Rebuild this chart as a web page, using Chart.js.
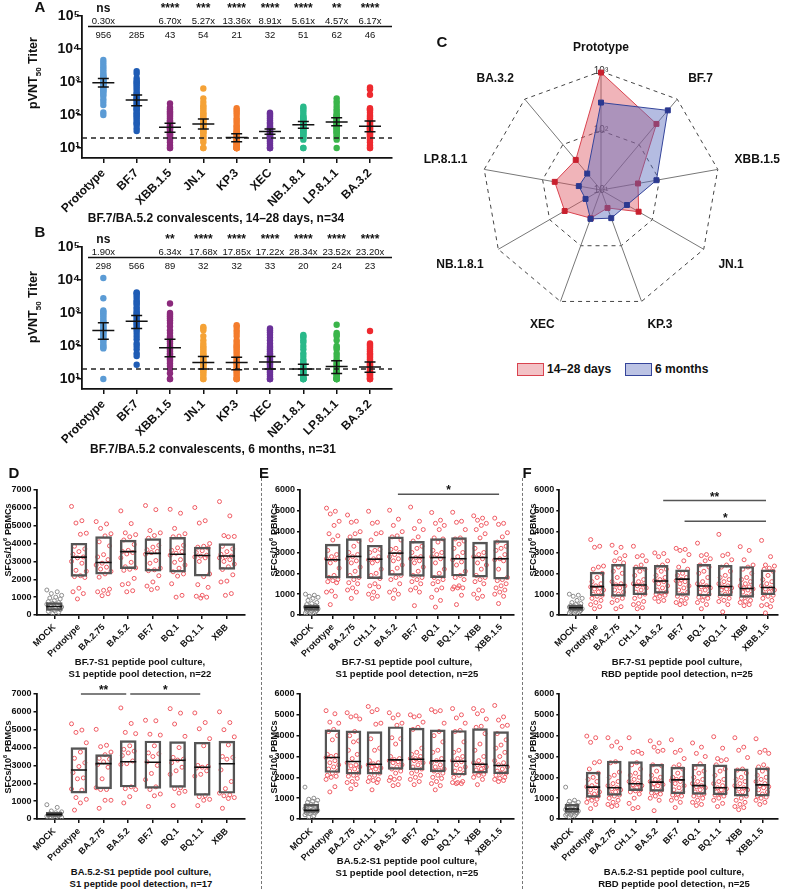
<!DOCTYPE html>
<html>
<head>
<meta charset="utf-8">
<script src="https://cdn.jsdelivr.net/npm/chart.js@4.4.1/dist/chart.umd.min.js"></script>
<style>
  body { margin: 0; background: #fff; }
  #page { position: relative; width: 785px; height: 889px; overflow: hidden; background: #fff;
          font-family: "Liberation Sans", Arial, sans-serif; color: #111; }
  .t { position: absolute; white-space: nowrap; font-weight: bold; transform: translate(-50%, -50%); line-height: 1; }
  .v { position: absolute; white-space: nowrap; font-weight: bold; transform: translate(-50%, -50%) rotate(-90deg); line-height: 1; }
  .sep { position: absolute; width: 0; border-left: 1px dashed #777; }
  .lg { position: absolute; width: 25px; height: 11px; }
</style>
</head>
<body>
<div id="page"></div>
<script>
// ---------- panel A / B : neutralising titers ----------
const variants = ['Prototype', 'BF.7', 'XBB.1.5', 'JN.1', 'KP.3', 'XEC', 'NB.1.8.1', 'LP.8.1.1', 'BA.3.2'];
const variantColors = ['#5b9bd5', '#1f5cb5', '#8b2a7c', '#f5a236', '#f47c2c', '#6a3199', '#2ab98a', '#3ab54a', '#ee2a2f'];
const titerTicks = [10, 100, 1000, 10000, 100000];
const lod = 20;

const gmtA = [956, 285, 43, 54, 21, 32, 51, 62, 46];
const loA = [710, 191, 30, 38, 15.5, 26, 40, 47, 31];
const hiA = [1290, 404, 56, 76, 27, 38, 64, 83, 66];
const sigA = ['ns', '', '****', '***', '****', '****', '****', '**', '****'];
const foldA = ['0.30x', '', '6.70x', '5.27x', '13.36x', '8.91x', '5.61x', '4.57x', '6.17x'];
const ptsA = [
  [4650, 3900, 3300, 2800, 2400, 2100, 1800, 1600, 1500, 1400, 1300, 1200, 1150, 1100, 1050, 1000, 950, 900, 850, 800, 750, 700, 650, 600, 560, 520, 480, 420, 380, 300, 250, 200, 120, 100],
  [2140, 1800, 1300, 1100, 1000, 900, 800, 700, 600, 500, 450, 400, 350, 320, 300, 280, 250, 220, 200, 180, 160, 150, 140, 120, 110, 100, 90, 80, 70, 60, 55, 50, 40, 33],
  [225, 170, 150, 130, 120, 110, 100, 90, 80, 70, 65, 60, 55, 50, 48, 45, 42, 40, 38, 35, 32, 30, 28, 26, 25, 23, 21, 20, 20, 18, 15, 12, 10, 10],
  [640, 320, 250, 200, 180, 160, 140, 120, 110, 100, 90, 80, 75, 70, 65, 60, 55, 50, 48, 45, 42, 40, 38, 35, 32, 30, 28, 25, 22, 20, 18, 15, 10, 10],
  [160, 140, 120, 100, 80, 70, 60, 50, 45, 40, 35, 32, 30, 28, 26, 24, 22, 20, 20, 18, 17, 16, 15, 14, 13, 12, 12, 11, 10, 10, 10, 10, 10, 10],
  [118, 110, 100, 90, 80, 70, 60, 55, 50, 45, 42, 40, 38, 36, 34, 32, 30, 28, 27, 26, 25, 24, 23, 22, 21, 20, 20, 18, 16, 14, 12, 10, 10, 10],
  [178, 160, 140, 120, 100, 90, 85, 80, 75, 70, 65, 60, 58, 55, 52, 50, 48, 46, 44, 42, 40, 38, 36, 34, 32, 30, 28, 26, 24, 22, 20, 18, 10, 10],
  [320, 260, 220, 180, 150, 130, 110, 100, 95, 90, 85, 80, 75, 70, 65, 60, 58, 55, 52, 50, 48, 45, 42, 40, 38, 35, 32, 30, 28, 25, 22, 20, 18, 10],
  [680, 600, 410, 160, 150, 140, 120, 100, 90, 80, 70, 65, 60, 55, 50, 48, 45, 42, 40, 38, 36, 34, 32, 30, 28, 26, 24, 22, 20, 18, 15, 12, 10, 10]
];

const gmtB = [298, 566, 89, 32, 32, 33, 20, 24, 23];
const loB = [160, 340, 47, 20, 19, 20, 13.2, 14.8, 16];
const hiB = [510, 840, 160, 48, 46, 48, 28, 36, 33];
const sigB = ['ns', '', '**', '****', '****', '****', '****', '****', '****'];
const foldB = ['1.90x', '', '6.34x', '17.68x', '17.85x', '17.22x', '28.34x', '23.52x', '23.20x'];
const ptsB = [
  [11500, 2800, 1200, 1100, 1000, 900, 800, 700, 600, 550, 500, 450, 400, 380, 350, 320, 300, 280, 260, 240, 220, 200, 180, 160, 150, 130, 110, 100, 90, 85, 10],
  [4200, 4000, 3500, 3000, 2500, 2200, 2000, 1800, 1500, 1300, 1100, 1000, 900, 800, 700, 600, 550, 500, 450, 400, 350, 300, 250, 200, 160, 120, 100, 80, 60, 50, 27],
  [1950, 1000, 900, 800, 700, 600, 500, 400, 300, 250, 200, 180, 160, 140, 120, 100, 90, 80, 70, 60, 55, 50, 45, 40, 35, 30, 25, 20, 15, 10, 10],
  [380, 350, 300, 200, 150, 120, 100, 90, 80, 70, 60, 55, 50, 45, 40, 36, 33, 30, 28, 26, 24, 22, 20, 20, 20, 18, 16, 14, 12, 10, 10],
  [430, 380, 300, 250, 200, 150, 130, 110, 100, 90, 80, 70, 60, 50, 45, 40, 35, 32, 30, 28, 25, 22, 20, 20, 18, 16, 14, 12, 10, 10, 10],
  [340, 300, 260, 220, 180, 150, 120, 100, 90, 80, 70, 60, 55, 50, 45, 40, 36, 33, 30, 28, 25, 22, 20, 20, 18, 16, 14, 12, 10, 10, 10],
  [215, 200, 180, 150, 130, 100, 80, 60, 50, 40, 35, 30, 28, 25, 22, 20, 20, 20, 18, 17, 16, 15, 14, 13, 12, 11, 10, 10, 10, 10, 10],
  [440, 250, 220, 200, 150, 100, 90, 80, 60, 50, 40, 35, 30, 28, 25, 22, 20, 20, 18, 17, 16, 15, 14, 13, 12, 11, 10, 10, 10, 10, 10],
  [285, 120, 110, 100, 90, 80, 70, 60, 55, 50, 45, 40, 35, 30, 28, 26, 24, 22, 20, 20, 18, 17, 16, 15, 14, 13, 12, 11, 10, 10, 10]
];

// ---------- panel C : radar of GMTs ----------
const radarMin = 10, radarMax = 1000;

// ---------- panels D / E / F : ELISpot ----------
const catsD = ['MOCK', 'Prototype', 'BA.2.75', 'BA.5.2', 'BF.7', 'BQ.1', 'BQ.1.1', 'XBB'];
const catsEF = ['MOCK', 'Prototype', 'BA.2.75', 'CH.1.1', 'BA.5.2', 'BF.7', 'BQ.1', 'BQ.1.1', 'XBB', 'XBB.1.5'];

const dTopPts = [
  [1400, 1300, 1200, 1100, 1000, 950, 900, 800, 750, 700, 650, 600, 550, 500, 450, 400, 350, 300, 250, 200, 150, 100],
  [6080, 5280, 5150, 4580, 4520, 3850, 3700, 3550, 3400, 3250, 3200, 3000, 2900, 2500, 2450, 2200, 2150, 2100, 1500, 1300, 1200, 900],
  [5230, 5100, 4850, 4550, 4430, 4100, 3870, 3380, 3250, 3100, 2900, 2800, 2680, 2570, 2440, 2300, 2120, 1450, 1380, 1300, 1190, 1080],
  [5830, 5120, 4600, 4500, 4380, 4200, 3950, 3620, 3560, 3500, 3420, 3200, 2950, 2700, 2640, 2560, 2500, 2050, 1750, 1700, 1360, 1300],
  [6130, 5900, 4730, 4600, 4450, 4300, 3900, 3800, 3650, 3560, 3500, 3400, 3050, 2900, 2620, 2530, 2480, 2200, 1850, 1620, 1500, 1420],
  [5920, 5700, 4850, 4550, 4420, 4380, 3900, 3760, 3620, 3550, 3460, 3350, 3100, 2950, 2800, 2620, 2420, 2300, 2180, 1750, 1100, 1000],
  [6020, 5280, 5150, 4000, 3850, 3800, 3750, 3600, 3500, 3350, 3300, 3250, 3200, 3000, 2300, 2150, 1700, 1550, 1100, 1050, 1000, 950],
  [6350, 5550, 4450, 4400, 4380, 3850, 3700, 3550, 3400, 3300, 3250, 3200, 3100, 3000, 2850, 2700, 2550, 2250, 1900, 1850, 1200, 1100]
];
const dTopQ1 = [260, 2160, 2290, 2590, 2450, 2400, 2180, 2550];
const dTopMed = [480, 3240, 2940, 3550, 3450, 3400, 3330, 3300];
const dTopQ3 = [700, 4020, 4390, 4200, 4280, 4350, 3800, 4000];

const dBotPts = [
  [800, 650, 450, 400, 350, 300, 300, 250, 250, 200, 200, 150, 150, 100, 100, 50, 50],
  [5330, 4980, 4850, 4270, 3750, 3400, 3150, 2940, 2600, 2300, 2250, 1680, 1620, 1200, 1100, 900, 500],
  [5020, 4130, 4050, 3750, 3600, 3400, 3350, 3200, 3050, 2900, 2250, 1750, 1650, 1650, 1050, 1050, 600],
  [6220, 5350, 4850, 4780, 4100, 3900, 3800, 3700, 3550, 3250, 3100, 3050, 1800, 1700, 1650, 1250, 900],
  [5530, 5500, 4750, 4700, 4100, 3700, 3650, 3500, 3200, 3000, 2550, 2200, 1800, 1650, 1400, 1300, 700],
  [6180, 5930, 5320, 4630, 4000, 3450, 3350, 3300, 3150, 2900, 2700, 2500, 1750, 1700, 1550, 1450, 750],
  [5940, 5400, 5050, 4500, 4100, 3000, 2950, 2900, 2850, 2700, 2500, 2400, 1300, 1250, 1100, 1050, 750],
  [6000, 5400, 5000, 4600, 4150, 3500, 3450, 3350, 2750, 2100, 1700, 1450, 1350, 1300, 1200, 1150, 600]
];
const dBotQ1 = [150, 1450, 1680, 1790, 1710, 1770, 1320, 1440];
const dBotMed = [260, 2740, 3100, 3210, 3180, 3290, 2900, 3090];
const dBotQ3 = [370, 4000, 3610, 4390, 4370, 4330, 4300, 4360];
const sigDBot = [
  { from: 'Prototype', to: 'BA.5.2', y: 7000, label: '**' },
  { from: 'BA.5.2', to: 'BQ.1.1', y: 7000, label: '*' }
];

const eTopPts = [
  [1000, 950, 900, 850, 800, 700, 600, 550, 500, 450, 400, 380, 350, 330, 300, 280, 250, 220, 200, 180, 150, 120, 100, 80, 50],
  [5130, 4980, 4850, 4500, 4300, 3900, 3800, 3600, 3100, 2900, 2800, 2700, 2650, 2500, 2250, 1900, 1800, 1700, 1650, 1600, 1550, 1150, 1100, 900, 500],
  [4800, 4500, 4450, 4000, 3900, 3750, 3550, 3300, 3000, 2900, 2800, 2700, 2600, 2500, 2300, 2100, 1900, 1800, 1700, 1550, 1500, 1300, 1200, 1100, 800],
  [4980, 4450, 4400, 3950, 3900, 3600, 3150, 3100, 3000, 2800, 2700, 2650, 2600, 2500, 2200, 2000, 1900, 1750, 1500, 1400, 1350, 1100, 1000, 900, 800],
  [5030, 4600, 4300, 4000, 3800, 3750, 3600, 3200, 3150, 3000, 2900, 2800, 2700, 2600, 2400, 2250, 2050, 1900, 1800, 1700, 1500, 1200, 1100, 1000, 800],
  [5180, 4500, 4150, 4100, 3750, 3550, 3300, 3200, 3000, 2800, 2750, 2700, 2600, 2500, 2300, 2100, 1900, 1800, 1700, 1600, 1500, 1300, 1200, 1100, 450],
  [4920, 4550, 4400, 4300, 4100, 3700, 3650, 3500, 3100, 3000, 2900, 2800, 2700, 2500, 2200, 2000, 1800, 1700, 1600, 1500, 1300, 1200, 850, 700, 380],
  [4930, 4500, 4450, 4100, 3700, 3650, 3550, 3400, 3200, 3000, 2800, 2650, 2550, 2400, 2100, 1900, 1800, 1700, 1400, 1350, 1300, 1300, 1250, 950, 500],
  [4760, 4650, 4550, 4400, 4300, 4100, 3900, 3700, 3200, 3000, 2900, 2800, 2700, 2500, 2400, 2200, 1900, 1800, 1700, 1600, 1500, 1200, 1000, 900, 800],
  [4650, 4400, 4350, 3950, 3750, 3500, 3300, 3200, 3100, 2900, 2700, 2650, 2600, 2200, 1800, 1700, 1650, 1500, 1400, 1300, 1200, 1100, 1000, 900, 550]
];
const eTopQ1 = [220, 1770, 1770, 1740, 1900, 1850, 1790, 1870, 1820, 1720];
const eTopMed = [365, 2650, 2810, 2680, 2970, 2760, 2760, 2700, 2760, 2700];
const eTopQ3 = [480, 3400, 3670, 3350, 3750, 3540, 3670, 3720, 3500, 3570];
const sigETop = [{ from: 'BA.5.2', to: 'XBB.1.5', y: 5800, label: '*' }];

const eBotPts = [
  [1530, 1000, 950, 900, 850, 800, 750, 700, 650, 600, 550, 500, 480, 450, 420, 400, 380, 350, 320, 300, 280, 250, 200, 150, 100],
  [5200, 5050, 4650, 4600, 4300, 4200, 4000, 3800, 3100, 3050, 3000, 2950, 2800, 2700, 2600, 2500, 2400, 2300, 2200, 2100, 2050, 2000, 1900, 1550, 1300],
  [5100, 4950, 4900, 4800, 4200, 4000, 3750, 3700, 3300, 3100, 2900, 2700, 2600, 2550, 2500, 2400, 2300, 2200, 2100, 2050, 1950, 1800, 1750, 1650, 1450],
  [5400, 5250, 5150, 4600, 4550, 3850, 3400, 3300, 2800, 2700, 2650, 2600, 2550, 2500, 2450, 2400, 2300, 2200, 2100, 2000, 1900, 1850, 1800, 1750, 1400],
  [5100, 5000, 4850, 4600, 4500, 3900, 3850, 3600, 3000, 2900, 2850, 2800, 2750, 2700, 2600, 2500, 2400, 2300, 2200, 2000, 1950, 1900, 1850, 1650, 1600],
  [5000, 4950, 4900, 4650, 4400, 4300, 3400, 3200, 3100, 3000, 2900, 2900, 2850, 2800, 2700, 2600, 2500, 2400, 2300, 2200, 2100, 2000, 1900, 1800, 1650],
  [5250, 5200, 5150, 4600, 4200, 4000, 3700, 3300, 3200, 2900, 2800, 2700, 2600, 2500, 2400, 2350, 2300, 2200, 2100, 2000, 1950, 1800, 1700, 1600, 1400],
  [5300, 5000, 4850, 4600, 4250, 4200, 3700, 3300, 3200, 3000, 2900, 2800, 2750, 2600, 2500, 2400, 2300, 2200, 2100, 2000, 1800, 1750, 1750, 1700, 1700],
  [5300, 5200, 5050, 4800, 4450, 4400, 4100, 3600, 3300, 3000, 2800, 2700, 2600, 2600, 2500, 2400, 2350, 2300, 2250, 2200, 2150, 2100, 2000, 1900, 1650],
  [5450, 4900, 4750, 4500, 4450, 4100, 3800, 3550, 3400, 3200, 3000, 2800, 2700, 2600, 2500, 2400, 2300, 2200, 2200, 2100, 2000, 1950, 1900, 1850, 1800]
];
const eBotQ1 = [320, 2230, 2150, 2150, 2380, 2360, 2260, 2110, 2200, 2170];
const eBotMed = [420, 2950, 2760, 2630, 2840, 2870, 2790, 2770, 2630, 2570];
const eBotQ3 = [700, 4280, 4230, 4200, 4430, 4360, 4280, 4250, 4340, 4200];

const fTopPts = [
  [1000, 950, 900, 800, 700, 600, 550, 500, 450, 420, 400, 380, 350, 330, 300, 280, 250, 220, 200, 180, 150, 120, 100, 80, 50],
  [3620, 3300, 3250, 2350, 2300, 2200, 2000, 1800, 1600, 1500, 1400, 1350, 1300, 1250, 1200, 1100, 1000, 950, 900, 800, 700, 600, 500, 400, 300],
  [3350, 3250, 3000, 2850, 2700, 2600, 2500, 2300, 2100, 2000, 1800, 1600, 1500, 1450, 1400, 1300, 1200, 1100, 1000, 900, 800, 700, 600, 400, 300],
  [3300, 2850, 2800, 2600, 2400, 2300, 2200, 2100, 1900, 1700, 1600, 1500, 1450, 1400, 1300, 1200, 1100, 1000, 900, 800, 650, 550, 500, 350, 300],
  [2980, 2950, 2800, 2600, 2400, 2300, 2200, 2100, 1900, 1800, 1700, 1650, 1600, 1500, 1400, 1300, 1200, 1100, 1050, 1000, 950, 900, 800, 700, 650],
  [3200, 3150, 3100, 2900, 2600, 2300, 2200, 2000, 1900, 1800, 1700, 1650, 1600, 1500, 1400, 1300, 1200, 1100, 1000, 900, 800, 700, 600, 550, 500],
  [3450, 2900, 2850, 2700, 2600, 2400, 2300, 2100, 2000, 1800, 1600, 1500, 1400, 1350, 1300, 1200, 1100, 1000, 900, 850, 800, 700, 600, 500, 300],
  [3870, 2920, 2850, 2650, 2400, 2300, 2100, 1900, 1800, 1700, 1600, 1500, 1400, 1350, 1300, 1250, 1200, 1100, 1000, 900, 800, 700, 650, 500, 150],
  [3280, 3100, 2650, 2400, 2300, 2200, 2000, 1800, 1700, 1600, 1500, 1400, 1350, 1300, 1250, 1200, 1100, 1000, 900, 800, 700, 650, 600, 500, 450],
  [3580, 2800, 2400, 2350, 2250, 2200, 2100, 1900, 1700, 1600, 1500, 1400, 1300, 1250, 1200, 1100, 1000, 950, 900, 800, 700, 500, 450, 400, 100]
];
const fTopQ1 = [220, 910, 890, 970, 1040, 940, 910, 920, 840, 970];
const fTopMed = [350, 1360, 1440, 1440, 1630, 1720, 1390, 1370, 1270, 1320];
const fTopQ3 = [480, 2060, 2430, 2300, 2380, 2170, 2430, 2380, 2330, 2170];
const sigFTop = [
  { from: 'BA.5.2', to: 'XBB.1.5', y: 5500, label: '**' },
  { from: 'BF.7', to: 'XBB.1.5', y: 4500, label: '*' }
];

const fBotPts = [
  [1530, 900, 850, 800, 750, 700, 650, 600, 550, 500, 480, 450, 420, 400, 380, 350, 330, 300, 280, 250, 220, 200, 180, 150, 100],
  [3980, 3900, 3680, 2750, 2700, 2400, 2200, 2000, 1900, 1800, 1600, 1550, 1500, 1400, 1300, 1200, 1150, 1100, 1050, 1000, 950, 900, 800, 700, 500],
  [3900, 3700, 3500, 3400, 2750, 2700, 2250, 2100, 2000, 1800, 1700, 1600, 1500, 1450, 1400, 1300, 1200, 1150, 1100, 1000, 900, 800, 700, 650, 600],
  [3900, 3250, 3200, 3150, 2700, 2600, 2400, 2200, 2100, 2000, 1900, 1800, 1700, 1650, 1600, 1500, 1450, 1400, 1350, 1300, 1200, 1000, 750, 550, 500],
  [3750, 3650, 3450, 3300, 3250, 2600, 2550, 2300, 2100, 2000, 1900, 1800, 1750, 1700, 1650, 1600, 1500, 1400, 1300, 1250, 1200, 1100, 1000, 900, 400],
  [3800, 3300, 3200, 2900, 2600, 2500, 2400, 2200, 2000, 1950, 1900, 1850, 1800, 1700, 1600, 1500, 1400, 1300, 1200, 1150, 1100, 1000, 900, 800, 550],
  [3650, 3450, 3150, 3000, 2650, 2450, 2300, 2200, 2000, 1900, 1800, 1700, 1600, 1550, 1500, 1400, 1300, 1200, 1150, 1100, 1000, 900, 800, 700, 650],
  [3950, 3400, 2900, 2850, 2800, 2600, 2400, 2300, 2100, 1900, 1800, 1700, 1600, 1500, 1450, 1400, 1300, 1250, 1200, 1150, 1100, 1000, 900, 750, 600],
  [3900, 3450, 3300, 2950, 2400, 2350, 2200, 2000, 1900, 1800, 1700, 1600, 1500, 1450, 1400, 1300, 1200, 1100, 1000, 900, 800, 700, 600, 550, 450],
  [3850, 3300, 3200, 3150, 2600, 2500, 2400, 2300, 2100, 2000, 1900, 1800, 1700, 1600, 1550, 1500, 1400, 1300, 1200, 1100, 1050, 1000, 900, 800, 700]
];
const fBotQ1 = [320, 1040, 1130, 1360, 1320, 1200, 1180, 1160, 1100, 1100];
const fBotMed = [480, 1530, 1500, 1690, 1770, 1880, 1600, 1500, 1500, 1640];
const fBotQ3 = [700, 2250, 2780, 2760, 2620, 2490, 2620, 2600, 2410, 2460];

// ---------- helpers ----------
const FONT = '"Liberation Sans", Arial, sans-serif';
Chart.defaults.font.family = FONT;
Chart.defaults.color = '#111';
const sup = { 1: '\u00b9', 2: '\u00b2', 3: '\u00b3', 4: '\u2074', 5: '\u2075' };
const page = document.getElementById('page');

function makeCanvas(left, top, w, h) {
  const c = document.createElement('canvas');
  c.width = Math.round(w); c.height = Math.round(h);
  c.style.cssText = `position:absolute;left:${left}px;top:${top}px;width:${Math.round(w)}px;height:${Math.round(h)}px`;
  page.appendChild(c);
  return c;
}
function text(x, y, html, size, cls = 't', extra = '') {
  const d = document.createElement('div');
  d.className = cls;
  d.style.cssText = `left:${x}px;top:${y}px;font-size:${size}px;${extra}`;
  d.innerHTML = html;
  page.appendChild(d);
}
// spread points sideways so they don't sit on one line
const jit = j => (((j * 7) % 11) / 10 - 0.5) * 0.6;

const axisCommon = {
  grid: { drawOnChartArea: false, drawTicks: true, color: '#111', lineWidth: 1.5 },
  border: { color: '#111', width: 1.8 }
};

// ---------- A / B ----------
function titerMarks(gmt, lo, hi, sig, fold) {
  return {
    id: 'titerMarks',
    afterDatasetsDraw(chart) {
      const { ctx, chartArea: a, scales: { x, y } } = chart;
      ctx.save();
      ctx.strokeStyle = '#222';
      ctx.lineWidth = 1.5;
      ctx.setLineDash([5, 4]);
      const yl = y.getPixelForValue(lod);
      ctx.beginPath(); ctx.moveTo(a.left, yl); ctx.lineTo(a.right, yl); ctx.stroke();
      ctx.setLineDash([]);
      ctx.strokeStyle = '#111';
      gmt.forEach((g, i) => {
        const px = x.getPixelForValue(i);
        const yg = y.getPixelForValue(g), y1 = y.getPixelForValue(lo[i]), y2 = y.getPixelForValue(hi[i]);
        ctx.beginPath();
        ctx.moveTo(px - 11, yg); ctx.lineTo(px + 11, yg);
        ctx.moveTo(px, y1); ctx.lineTo(px, y2);
        ctx.moveTo(px - 5.5, y1); ctx.lineTo(px + 5.5, y1);
        ctx.moveTo(px - 5.5, y2); ctx.lineTo(px + 5.5, y2);
        ctx.stroke();
      });
      // header: significance, fold change, GMT
      ctx.beginPath(); ctx.moveTo(a.left + 6, a.top + 10.5); ctx.lineTo(a.right, a.top + 10.5); ctx.stroke();
      ctx.fillStyle = '#111';
      ctx.textAlign = 'center';
      ctx.textBaseline = 'middle';
      variants.forEach((v, i) => {
        const px = x.getPixelForValue(i);
        ctx.font = `bold 12px ${FONT}`;
        ctx.fillText(sig[i], px, a.top - 7.5);
        ctx.font = `9.5px ${FONT}`;
        ctx.fillText(fold[i], px, a.top + 5);
        ctx.fillText(String(gmt[i]), px, a.top + 19);
      });
      ctx.restore();
    }
  };
}

function titerPanel(top, pts, gmt, lo, hi, sig, fold) {
  const canvas = makeCanvas(0, top, 400, 214);
  new Chart(canvas, {
    type: 'scatter',
    data: {
      datasets: variants.map((v, i) => ({
        label: v,
        data: pts[i].map(val => ({ x: i, y: val })),
        pointRadius: 3.2,
        pointBackgroundColor: variantColors[i],
        pointBorderWidth: 0
      }))
    },
    options: {
      responsive: false, animation: false, events: [],
      layout: { padding: { top: 16, right: 8, left: 0, bottom: 0 } },
      plugins: { legend: { display: false }, tooltip: { enabled: false } },
      scales: {
        x: {
          type: 'linear', min: -0.64, max: 8.66, offset: false,
          afterBuildTicks: ax => { ax.ticks = variants.map((v, i) => ({ value: i })); },
          afterFit: ax => { ax.height = 56; },
          ticks: { callback: v => variants[v], autoSkip: false, minRotation: 45, maxRotation: 45,
                   font: { size: 12, weight: 'bold' }, color: '#111', padding: 3 },
          grid: { ...axisCommon.grid, offset: false, tickLength: 5 },
          border: axisCommon.border
        },
        y: {
          type: 'logarithmic', min: 5, max: 100000,
          afterBuildTicks: ax => { ax.ticks = titerTicks.map(v => ({ value: v })); },
          afterFit: ax => { ax.width = 82; },
          ticks: { callback: v => '10' + sup[Math.round(Math.log10(v))], font: { size: 14, weight: 'bold' }, color: '#111', padding: -3 },
          grid: { ...axisCommon.grid, tickLength: 5 },
          border: axisCommon.border
        }
      }
    },
    plugins: [titerMarks(gmt, lo, hi, sig, fold)]
  });
}

titerPanel(0, ptsA, gmtA, loA, hiA, sigA, foldA);
titerPanel(231, ptsB, gmtB, loB, hiB, sigB, foldB);

// ---------- C radar ----------
const radarCenterLabel = {
  id: 'radarCenterLabel',
  beforeDatasetsDraw(chart) {
    const r = chart.scales.r, ctx = chart.ctx;
    ctx.save();
    ctx.font = `10px ${FONT}`;
    ctx.fillStyle = '#333';
    ctx.textAlign = 'center';
    ctx.textBaseline = 'middle';
    ctx.fillText('10' + sup[Math.log10(radarMin)], r.xCenter, r.yCenter);
    ctx.restore();
  }
};
new Chart(makeCanvas(420, 36, 365, 300), {
  type: 'radar',
  data: {
    labels: variants,
    datasets: [
      { label: '14\u201328 days', data: gmtA.map(v => Math.log10(v)), order: 2, fill: true,
        borderColor: '#d9434f', borderWidth: 1, backgroundColor: 'rgba(220,81,92,0.43)',
        pointStyle: 'rect', pointRadius: 3.5, pointBackgroundColor: '#c8202e', pointBorderColor: '#c8202e' },
      { label: '6 months', data: gmtB.map(v => Math.log10(v)), order: 1, fill: true,
        borderColor: '#34449a', borderWidth: 1, backgroundColor: 'rgba(88,106,188,0.45)',
        pointStyle: 'rect', pointRadius: 3.5, pointBackgroundColor: '#2b3990', pointBorderColor: '#2b3990' }
    ]
  },
  options: {
    responsive: false, animation: false, events: [],
    plugins: { legend: { display: false }, tooltip: { enabled: false } },
    scales: {
      r: {
        min: Math.log10(radarMin), max: Math.log10(radarMax),
        ticks: { stepSize: 1, callback: v => '10' + sup[v], showLabelBackdrop: false, font: { size: 10 }, color: '#333' },
        grid: { color: '#444', lineWidth: 1 },
        border: { dash: [4, 4] },
        angleLines: { color: '#777', lineWidth: 1 },
        pointLabels: { font: { size: 12, weight: 'bold' }, color: '#111', padding: 10 }
      }
    }
  },
  plugins: [radarCenterLabel]
});

// ---------- D / E / F ----------
function sigBars(bars, cats) {
  return {
    id: 'sigBars',
    afterDatasetsDraw(chart) {
      const { ctx, scales: { x, y } } = chart;
      ctx.save();
      ctx.strokeStyle = '#555';
      ctx.lineWidth = 1.5;
      ctx.fillStyle = '#111';
      ctx.textAlign = 'center';
      ctx.textBaseline = 'bottom';
      ctx.font = `bold 12px ${FONT}`;
      bars.forEach(b => {
        const x1 = x.getPixelForValue(cats.indexOf(b.from)) + 2;
        const x2 = x.getPixelForValue(cats.indexOf(b.to)) - 2;
        const yy = y.getPixelForValue(b.y);
        ctx.beginPath(); ctx.moveTo(x1, yy); ctx.lineTo(x2, yy); ctx.stroke();
        ctx.fillText(b.label, (x1 + x2) / 2, yy + 3);
      });
      ctx.restore();
    }
  };
}

function boxPanel(g, cats, pts, q1, med, q3, ymax, bars) {
  const canvasTop = g.plotTop - 12;
  const canvas = makeCanvas(g.left, canvasTop, g.plotRight + 6 - g.left, g.plotBottom + 46 - canvasTop);
  const mockPts = [], varPts = [];
  pts.forEach((arr, i) => arr.forEach((v, j) => (i === 0 ? mockPts : varPts).push({ x: i + jit(j), y: v })));
  new Chart(canvas, {
    type: 'scatter',
    data: {
      datasets: [
        { data: mockPts, order: 3, pointRadius: 2, pointBorderWidth: 1, pointBorderColor: '#8c8c8c', pointBackgroundColor: 'rgba(255,255,255,0)' },
        { data: varPts, order: 3, pointRadius: 2, pointBorderWidth: 1, pointBorderColor: '#ef5a62', pointBackgroundColor: 'rgba(255,255,255,0)' },
        { type: 'bar', order: 2, data: cats.map((c, i) => ({ x: i, y: [q1[i], q3[i]] })),
          barThickness: g.box, backgroundColor: 'rgba(0,0,0,0)', borderColor: '#555', borderWidth: 1.8, borderSkipped: false },
        { data: cats.map((c, i) => ({ x: i, y: med[i] })), order: 1, pointStyle: 'line',
          pointRadius: g.box / 2, pointBorderColor: '#111', pointBorderWidth: 1.6 }
      ]
    },
    options: {
      responsive: false, animation: false, events: [],
      layout: { padding: { top: 12, right: 6, left: 0, bottom: 0 } },
      plugins: { legend: { display: false }, tooltip: { enabled: false } },
      scales: {
        x: {
          type: 'linear', min: g.min, max: g.max, offset: false,
          afterBuildTicks: ax => { ax.ticks = cats.map((c, i) => ({ value: i })); },
          afterFit: ax => { ax.height = 46; },
          ticks: { callback: v => cats[v], autoSkip: false, minRotation: 45, maxRotation: 45,
                   font: { size: 9, weight: 'bold' }, color: '#111', padding: 3 },
          grid: { ...axisCommon.grid, offset: false, tickLength: 4 },
          border: axisCommon.border
        },
        y: {
          min: 0, max: ymax,
          afterFit: ax => { ax.width = g.plotLeft - g.left; },
          ticks: { stepSize: 1000, callback: v => String(v), font: { size: 9, weight: 'bold' }, color: '#111', padding: 2 },
          grid: { ...axisCommon.grid, tickLength: 3 },
          border: axisCommon.border
        }
      }
    },
    plugins: [sigBars(bars, cats)]
  });
}

boxPanel({ left: 0, plotLeft: 36.5, plotTop: 490, plotRight: 248, plotBottom: 615.3, min: -0.72, max: 7.71, box: 16 },
  catsD, dTopPts, dTopQ1, dTopMed, dTopQ3, 7000, []);
boxPanel({ left: 0, plotLeft: 36.5, plotTop: 694, plotRight: 248, plotBottom: 819.3, min: -0.72, max: 7.71, box: 16 },
  catsD, dBotPts, dBotQ1, dBotMed, dBotQ3, 7000, sigDBot);
boxPanel({ left: 262, plotLeft: 300, plotTop: 490, plotRight: 516.7, plotBottom: 615.3, min: -0.56, max: 9.61, box: 15 },
  catsEF, eTopPts, eTopQ1, eTopMed, eTopQ3, 6000, sigETop);
boxPanel({ left: 262, plotLeft: 299.5, plotTop: 694, plotRight: 516.7, plotBottom: 819.3, min: -0.56, max: 9.61, box: 15 },
  catsEF, eBotPts, eBotQ1, eBotMed, eBotQ3, 6000, []);
boxPanel({ left: 522, plotLeft: 559.3, plotTop: 490, plotRight: 780, plotBottom: 615.3, min: -0.77, max: 9.44, box: 14 },
  catsEF, fTopPts, fTopQ1, fTopMed, fTopQ3, 6000, sigFTop);
boxPanel({ left: 522, plotLeft: 559.3, plotTop: 694, plotRight: 780, plotBottom: 819.3, min: -0.6, max: 9.71, box: 14 },
  catsEF, fBotPts, fBotQ1, fBotMed, fBotQ3, 6000, []);

// ---------- text & decoration ----------
text(40, 6, 'A', 15); text(40, 231, 'B', 15); text(442, 41, 'C', 15);
text(14, 472, 'D', 15); text(264, 472, 'E', 15); text(527, 472, 'F', 15);

text(35, 73, 'pVNT<sub style="font-size:8px">50</sub> Titer', 12.5, 'v');
text(35, 307, 'pVNT<sub style="font-size:8px">50</sub> Titer', 12.5, 'v');
text(216, 218, 'BF.7/BA.5.2 convalescents, 14\u201328 days, n=34', 12);
text(213, 449, 'BF.7/BA.5.2 convalescents, 6 months, n=31', 12);

const sfc = 'SFCs/10<sup style="font-size:6px">6</sup> PBMCs';
text(7.3, 540, sfc, 9, 'v'); text(272.7, 540, sfc, 9, 'v'); text(532, 540, sfc, 9, 'v');
text(7.3, 757, sfc, 9, 'v'); text(272.7, 757, sfc, 9, 'v'); text(532, 757, sfc, 9, 'v');

text(140, 662, 'BF.7-S1 peptide pool culture,', 9.5); text(140, 674, 'S1 peptide pool detection, n=22', 9.5);
text(407, 662, 'BF.7-S1 peptide pool culture,', 9.5); text(407, 674, 'S1 peptide pool detection, n=25', 9.5);
text(677, 662, 'BF.7-S1 peptide pool culture,', 9.5); text(677, 674, 'RBD peptide pool detection, n=25', 9.5);
text(141, 872, 'BA.5.2-S1 peptide pool culture,', 9.5); text(141, 884, 'S1 peptide pool detection, n=17', 9.5);
text(407, 861, 'BA.5.2-S1 peptide pool culture,', 9.5); text(407, 873, 'S1 peptide pool detection, n=25', 9.5);
text(674, 872, 'BA.5.2-S1 peptide pool culture,', 9.5); text(674, 884, 'RBD peptide pool detection, n=25', 9.5);

// radar legend
function legendItem(x, fill, stroke, label) {
  const b = document.createElement('div');
  b.className = 'lg';
  b.style.cssText = `left:${x}px;top:363px;background:${fill};border:1px solid ${stroke}`;
  page.appendChild(b);
  text(x + 30, 369, label, 12, 't', 'transform:translate(0,-50%)');
}
legendItem(517, 'rgba(220,81,92,0.35)', '#d9434f', '14\u201328 days');
legendItem(625, 'rgba(88,106,188,0.40)', '#34449a', '6 months');

// dashed separators between D / E / F
[261, 522].forEach(x => {
  const s = document.createElement('div');
  s.className = 'sep';
  s.style.cssText = `left:${x}px;top:478px;height:411px`;
  page.appendChild(s);
});
</script>
</body>
</html>
